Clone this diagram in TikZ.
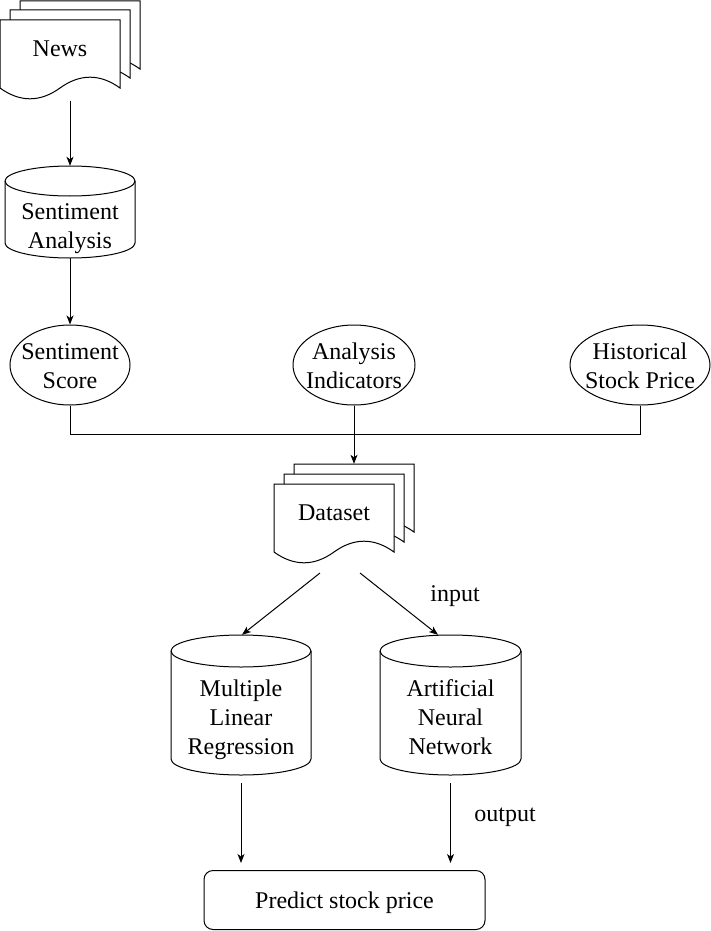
\documentclass[tikz,border=0pt]{standalone}
\usepackage{fontspec}
\setmainfont{Liberation Serif}
\usetikzlibrary{shapes.geometric,arrows.meta,calc}
\newcommand{\cylshape}[5]{% cx top w h ry
  \draw[shp] ({#1-#3/2},{#2+#5}) -- ({#1-#3/2},{#2+#4-#5})
    arc[start angle=180,end angle=360,x radius={(#3/2)*1pt},y radius={#5*1pt}]
    -- ({#1+#3/2},{#2+#5})
    arc[start angle=0,end angle=180,x radius={(#3/2)*1pt},y radius={#5*1pt}] -- cycle;
  \draw[shp,fill=none] ({#1-#3/2},{#2+#5})
    arc[start angle=180,end angle=360,x radius={(#3/2)*1pt},y radius={#5*1pt}];
}
\newcommand{\docshape}[2]{% top-left x y
  \draw[shp] (#1,#2) -- ({#1+120},#2) -- ({#1+120},{#2+68})
    .. controls ({#1+100},{#2+53.6}) and ({#1+80},{#2+53.6}) .. ({#1+60},{#2+68})
    .. controls ({#1+40},{#2+82.4}) and ({#1+20},{#2+82.4}) .. (#1,{#2+68}) -- cycle;
}
\begin{document}
\begin{tikzpicture}[x=1pt,y=-1pt,
  shp/.style={draw,line width=1pt,fill=white},
  lbl/.style={align=center,font=\fontsize{24}{29}\selectfont,inner sep=0pt},
  ghost/.style={draw=none,inner sep=0pt},
  ell/.style={draw,ellipse,line width=1pt,inner sep=0pt,fill=white},
  arr/.style={-{Stealth[length=9pt,width=7pt,inset=2.5pt]},line width=1pt},
  conn/.style={line width=1pt}]
\useasboundingbox (0,0) rectangle (711,931);

% News multi-document
\docshape{20}{1}
\docshape{10}{10}
\docshape{0}{20}
\node[ghost,minimum width=140pt,minimum height=100pt] (news) at (70,50.5) {};
\node[lbl] (newstxt) at (60,49) {News};

% Sentiment Analysis cylinder
\cylshape{70}{166}{130}{92}{15}
\node[ghost,minimum width=130pt,minimum height=92pt] (sa) at (70,212) {};
\node[lbl] (satxt) at (70,228.5) {Sentiment\\Analysis};

% Ellipses
\node[ell,minimum width=120pt,minimum height=80pt] (ss) at (70,365) {};
\node[lbl] (sstxt) at (70,366) {Sentiment\\Score};
\node[ell,minimum width=122pt,minimum height=80pt] (ai) at (354,365) {};
\node[lbl] (aitxt) at (354,366) {Analysis\\Indicators};
\node[ell,minimum width=140pt,minimum height=80pt] (hsp) at (640,365) {};
\node[lbl] (hsptxt) at (640,366) {Historical\\Stock Price};

% Dataset multi-document
\docshape{294}{464}
\docshape{284}{474}
\docshape{274}{484}
\node[ghost,minimum width=140pt,minimum height=100pt] (ds) at (344,514) {};
\node[lbl] (dstxt) at (334,513) {Dataset};

% Model cylinders
\cylshape{241}{635}{140}{140}{16}
\node[ghost,minimum width=140pt,minimum height=140pt] (mlr) at (241,705) {};
\node[lbl] (mlrtxt) at (241,719.5) {Multiple\\Linear\\Regression};
\cylshape{450.5}{635}{141}{140}{16}
\node[ghost,minimum width=141pt,minimum height=140pt] (ann) at (450.5,705) {};
\node[lbl] (anntxt) at (450.5,717.5) {Artificial\\Neural\\Network};

% Output box
\node[draw,line width=1pt,rounded corners=9pt,minimum width=281pt,minimum height=59pt,
      text depth=0pt,font=\fontsize{24}{29}\selectfont] (pred) at (344.5,900) {Predict stock price};

% Free labels
\node[lbl] (inlbl) at (455,596) {input};
\node[lbl] (outlbl) at (505,817) {output};

% Connectors
\coordinate (dsL) at (320,573);
\coordinate (dsR) at (360,573);
\draw[arr] (news.south) -- (sa.north);
\draw[arr] (sa.south) -- (ss.north);
\draw[conn] (ss.south) -- ++(0,29) -| (hsp.south);
\draw[arr] (ai.south) -- (ai.south |- ds.north);
\draw[arr] (dsL) -- ([xshift=1pt]mlr.north);
\draw[arr] (dsR) -- ([xshift=-12.5pt]ann.north);
\draw[arr,shorten <=8pt,shorten >=7pt] (mlr.south) -- (mlr.south |- pred.north);
\draw[arr,shorten <=8pt,shorten >=7pt] (ann.south) -- (ann.south |- pred.north);
\end{tikzpicture}
\end{document}
